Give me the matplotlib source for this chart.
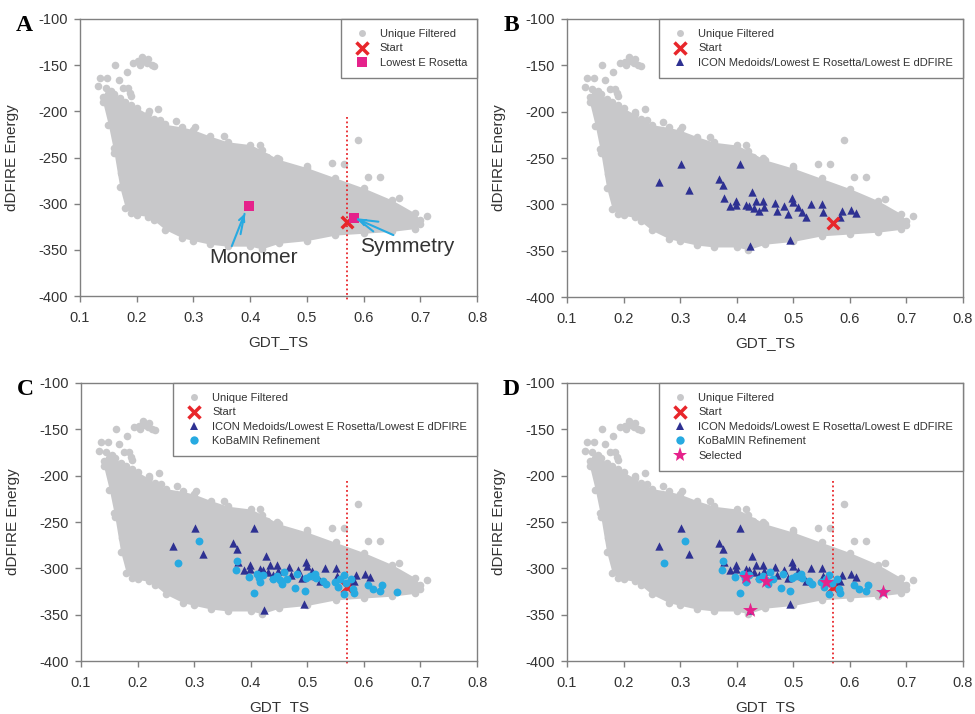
import matplotlib.pyplot as plt
from matplotlib.lines import Line2D

plt.rcParams['font.family'] = ['Liberation Sans', 'DejaVu Sans']
plt.rcParams['axes.unicode_minus'] = False

# Dense cloud of unique filtered decoys: upper and lower envelope vs GDT_TS
cloud_gdt = [0.14, 0.15, 0.16, 0.17, 0.18, 0.19, 0.20, 0.22, 0.23, 0.25, 0.28,
             0.30, 0.33, 0.36, 0.40, 0.42, 0.45, 0.50, 0.55, 0.60, 0.65, 0.69, 0.70]
cloud_top = [-184, -181, -181, -186, -190, -193, -196, -203, -208, -214, -217,
             -220, -227, -233, -236, -242, -252, -261, -272, -283, -296, -310, -318]
cloud_bottom = [-190, -215, -245, -282, -305, -310, -312, -314, -318, -328, -337,
                -340, -344, -346, -346, -349, -343, -340, -334, -332, -330, -327, -322]

# Scattered decoys lying outside the dense envelope
outlier_gdt = [0.132, 0.135, 0.147, 0.162, 0.168, 0.176, 0.182, 0.188, 0.194, 0.203,
               0.209, 0.218, 0.226, 0.221, 0.238, 0.241, 0.270, 0.303, 0.353, 0.417,
               0.429, 0.447, 0.500, 0.544, 0.565, 0.590, 0.608, 0.629, 0.662, 0.712,
               0.159, 0.173, 0.213, 0.220, 0.205, 0.230, 0.145, 0.155, 0.190, 0.185]
outlier_e = [-173, -164, -164, -150, -166, -175, -157, -180, -148, -146,
             -141, -148, -150, -200, -197, -209, -211, -217, -227, -236,
             -249, -250, -259, -256, -257, -231, -271, -271, -294, -313,
             -240, -267, -145, -143, -150, -151, -175, -178, -183, -175]

start_gdt, start_e = [0.570], [-320]
cutoff_gdt = 0.570

rosetta_gdt = [0.398, 0.583]
rosetta_e = [-302, -316]

icon_gdt = [0.262, 0.301, 0.316, 0.369, 0.375, 0.378, 0.388, 0.399, 0.399, 0.406,
            0.416, 0.421, 0.427, 0.431, 0.434, 0.439, 0.447, 0.448, 0.424, 0.468,
            0.471, 0.484, 0.490, 0.494, 0.497, 0.500, 0.509, 0.516, 0.522, 0.531,
            0.551, 0.553, 0.582, 0.586, 0.602, 0.611]
icon_e = [-276, -256, -285, -273, -279, -293, -302, -296, -301, -256,
          -301, -302, -287, -304, -296, -307, -296, -303, -345, -299,
          -307, -302, -310, -338, -293, -297, -303, -308, -314, -300,
          -300, -308, -314, -307, -306, -309]

kobamin_gdt = [0.272, 0.308, 0.375, 0.374, 0.397, 0.406, 0.411, 0.414, 0.416, 0.422,
               0.439, 0.446, 0.452, 0.455, 0.459, 0.464, 0.478, 0.482, 0.495, 0.498,
               0.505, 0.514, 0.516, 0.528, 0.533, 0.549, 0.555, 0.558, 0.564, 0.564,
               0.569, 0.578, 0.581, 0.583, 0.608, 0.616, 0.628, 0.632, 0.658]
kobamin_e = [-294, -270, -292, -302, -309, -327, -306, -310, -315, -307,
             -312, -308, -313, -317, -304, -312, -321, -306, -324, -310,
             -308, -306, -310, -314, -317, -315, -320, -311, -307, -328,
             -316, -311, -322, -327, -318, -322, -324, -318, -326]

selected_gdt = [0.417, 0.423, 0.451, 0.558, 0.659]
selected_e = [-309, -345, -314, -315, -326]

GRAY = '#c8c8ca'
RED = '#e8262b'
MAGENTA = '#e5228b'
NAVY = '#2e3192'
CYAN = '#27aae1'
AXIS = '#808080'
TEXT = '#333333'

fig = plt.figure(figsize=(9.75, 7.14), dpi=100)
boxes = {
    'A': [0.0821, 0.5854, 0.4072, 0.3880],
    'B': [0.5815, 0.5840, 0.4062, 0.3894],
    'C': [0.0831, 0.0742, 0.4062, 0.3894],
    'D': [0.5815, 0.0742, 0.4062, 0.3894],
}


def base_panel(letter):
    ax = fig.add_axes(boxes[letter])
    ax.set_xlim(0.1, 0.8)
    ax.set_ylim(-400, -100)
    ax.set_xticks([0.1, 0.2, 0.3, 0.4, 0.5, 0.6, 0.7, 0.8])
    ax.set_yticks([-400, -350, -300, -250, -200, -150, -100])
    for s in ax.spines.values():
        s.set_color(AXIS)
        s.set_linewidth(1.0)
    ax.tick_params(direction='out', length=4, width=1, color=AXIS,
                   labelcolor=TEXT, labelsize=10.5)
    ax.tick_params(axis='x', pad=7)
    ax.tick_params(axis='y', pad=5)
    ax.set_xlabel('GDT_TS', fontsize=11, color=TEXT)
    ax.set_ylabel('dDFIRE Energy', fontsize=11, color=TEXT)
    ax.xaxis.set_label_coords(0.5, -0.142)
    ax.yaxis.set_label_coords(-0.155, 0.5)

    # unique filtered decoys
    ax.fill_between(cloud_gdt, cloud_bottom, cloud_top, color=GRAY, lw=0, zorder=1)
    ax.scatter(cloud_gdt + cloud_gdt, cloud_top + cloud_bottom, s=30, color=GRAY,
               lw=0, zorder=1)
    ax.scatter(outlier_gdt, outlier_e, s=30, color=GRAY, lw=0, zorder=1)

    x0, y0, w, h = boxes[letter]
    fig.text(x0 - 0.057, y0 + h - 0.009, letter, family='Liberation Serif',
             fontweight='bold', fontsize=17, ha='center', va='center')
    return ax


def cutoff_line(ax):
    ax.plot([cutoff_gdt, cutoff_gdt], [-206, -404], ls=(0, (1, 1.5)), lw=1.3,
            color=RED, clip_on=False, zorder=2)


def finish_legend(ax, handles):
    leg = ax.legend(handles=handles, loc='upper right', borderaxespad=0,
                    fancybox=False, edgecolor=AXIS, framealpha=1, fontsize=8,
                    borderpad=0.9, handletextpad=0.6, labelspacing=0.4,
                    handlelength=2.0)
    leg.get_frame().set_linewidth(1.0)
    for t in leg.get_texts():
        t.set_color(TEXT)


h_cloud = Line2D([], [], ls='none', marker='o', ms=5, color=GRAY, mew=0,
                 label='Unique Filtered')
h_start = Line2D([], [], ls='none', marker='x', ms=8, mew=2.5, color=RED,
                 label='Start')
h_rosetta = Line2D([], [], ls='none', marker='s', ms=6.5, color=MAGENTA, mew=0,
                   label='Lowest E Rosetta')
h_icon = Line2D([], [], ls='none', marker='^', ms=6, color=NAVY, mew=0,
                label='ICON Medoids/Lowest E Rosetta/Lowest E dDFIRE')
h_kob = Line2D([], [], ls='none', marker='o', ms=6, color=CYAN, mew=0,
               label='KoBaMIN Refinement')
h_sel = Line2D([], [], ls='none', marker='*', ms=11, color=MAGENTA, mew=0,
               label='Selected')

# A: starting model and lowest energy Rosetta models
ax = base_panel('A')
cutoff_line(ax)
ax.scatter(start_gdt, start_e, marker='x', s=70, lw=2.5, color=RED, zorder=4)
ax.scatter(rosetta_gdt, rosetta_e, marker='s', s=45, color=MAGENTA, lw=0, zorder=5)
arrow = dict(arrowstyle='->', color=CYAN, lw=1.5, shrinkA=0, shrinkB=0)
line = dict(arrowstyle='-', color=CYAN, lw=1.5, shrinkA=0, shrinkB=0)
ax.annotate('', xy=(0.390, -311), xytext=(0.3675, -346), arrowprops=arrow, zorder=6)
ax.annotate('', xy=(0.390, -311), xytext=(0.383, -333), arrowprops=line, zorder=6)
ax.annotate('', xy=(0.590, -317), xytext=(0.6525, -334), arrowprops=arrow, zorder=6)
ax.annotate('', xy=(0.590, -317), xytext=(0.626, -319.5), arrowprops=line, zorder=6)
ax.annotate('', xy=(0.590, -317), xytext=(0.617, -330), arrowprops=line, zorder=6)
ax.text(0.4056, -358, 'Monomer', fontsize=15, color=TEXT, ha='center', va='center')
ax.text(0.676, -346.5, 'Symmetry', fontsize=15, color=TEXT, ha='center', va='center')
finish_legend(ax, [h_cloud, h_start, h_rosetta])

# B: ICON medoids and lowest energy picks
ax = base_panel('B')
ax.scatter(icon_gdt, icon_e, marker='^', s=36, color=NAVY, lw=0, zorder=3)
ax.scatter(start_gdt, start_e, marker='x', s=70, lw=2.5, color=RED, zorder=4)
finish_legend(ax, [h_cloud, h_start, h_icon])

# C: after KoBaMIN refinement
ax = base_panel('C')
cutoff_line(ax)
ax.scatter(start_gdt, start_e, marker='x', s=70, lw=2.5, color=RED, zorder=3)
ax.scatter(icon_gdt, icon_e, marker='^', s=36, color=NAVY, lw=0, zorder=4)
ax.scatter(kobamin_gdt, kobamin_e, marker='o', s=32, color=CYAN, lw=0, zorder=5)
finish_legend(ax, [h_cloud, h_start, h_icon, h_kob])

# D: final selected models
ax = base_panel('D')
cutoff_line(ax)
ax.scatter(start_gdt, start_e, marker='x', s=70, lw=2.5, color=RED, zorder=3)
ax.scatter(icon_gdt, icon_e, marker='^', s=36, color=NAVY, lw=0, zorder=4)
ax.scatter(kobamin_gdt, kobamin_e, marker='o', s=32, color=CYAN, lw=0, zorder=5)
ax.scatter(selected_gdt, selected_e, marker='*', s=130, color=MAGENTA, lw=0, zorder=6)
finish_legend(ax, [h_cloud, h_start, h_icon, h_kob, h_sel])

fig.savefig('out.png', dpi=100)
